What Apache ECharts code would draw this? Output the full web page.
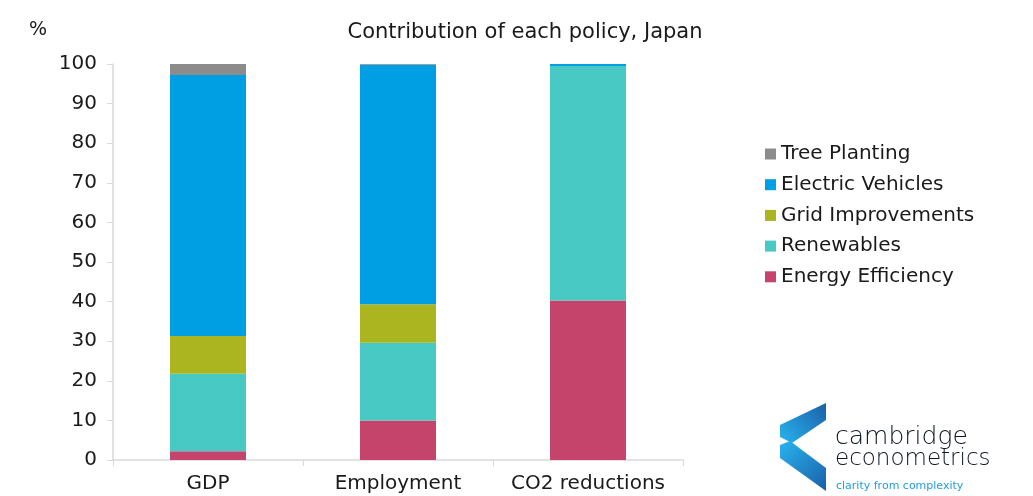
<!DOCTYPE html>
<html>
<head>
<meta charset="utf-8">
<script src="https://cdn.jsdelivr.net/npm/echarts@6/dist/echarts.min.js"></script>
<style>
  html, body { margin: 0; padding: 0; background: #fff; }
  #chart { width: 1033px; height: 496px; }
</style>
</head>
<body>
<div id="chart"></div>
<script>
// data
const categories = ['GDP', 'Employment', 'CO2 reductions'];
const energyEfficiency = [2.2, 10.0, 40.3];
const renewables = [19.6, 19.6, 59.2];
const gridImprovements = [9.5, 9.7, 0];
const electricVehicles = [65.9, 60.5, 0.5];
const treePlanting = [2.8, 0.2, 0];
const yTicks = [0, 10, 20, 30, 40, 50, 60, 70, 80, 90, 100];

const colors = {
  ee: '#c4446c',
  ren: '#48c9c3',
  grid: '#aab51f',
  ev: '#009fe3',
  tree: '#8c8c8c'
};

const font = '"DejaVu Sans", sans-serif';
const chart = echarts.init(document.getElementById('chart'), null, { renderer: 'canvas' });

const bar = (name, data, color) => ({
  name, type: 'bar', stack: 'total', data, barWidth: '40%',
  itemStyle: { color }, emphasis: { disabled: true }
});

chart.setOption({
  animation: false,
  title: {
    text: 'Contribution of each policy, Japan',
    left: 520, top: 17, textAlign: 'center',
    textStyle: { fontFamily: font, fontSize: 21, fontWeight: 'normal', color: '#1a1a1a' }
  },
  legend: {
    orient: 'vertical', left: 760, top: 139,
    itemWidth: 11, itemHeight: 11, itemGap: 10.7, icon: 'rect',
    textStyle: { fontFamily: font, fontSize: 20, color: '#1a1a1a' },
    data: ['Tree Planting', 'Electric Vehicles', 'Grid Improvements', 'Renewables', 'Energy Efficiency']
  },
  grid: { left: 113, right: 350, top: 64, bottom: 36 },
  xAxis: {
    type: 'category', data: categories,
    axisLine: { lineStyle: { color: '#d9d9d9', width: 1.5 } },
    axisTick: { show: true, interval: 0, length: 6, lineStyle: { color: '#d9d9d9' } },
    axisLabel: { interval: 0, fontFamily: font, fontSize: 20, color: '#1a1a1a', margin: 14 }
  },
  yAxis: {
    type: 'value', min: yTicks[0], max: yTicks[yTicks.length - 1], interval: 10,
    axisLine: { show: true, lineStyle: { color: '#d9d9d9', width: 1.5 } },
    axisTick: { show: true, length: 6, lineStyle: { color: '#d9d9d9' } },
    splitLine: { show: false },
    axisLabel: { fontFamily: font, fontSize: 20, color: '#1a1a1a', margin: 16 }
  },
  series: [
    bar('Energy Efficiency', energyEfficiency, colors.ee),
    bar('Renewables', renewables, colors.ren),
    bar('Grid Improvements', gridImprovements, colors.grid),
    bar('Electric Vehicles', electricVehicles, colors.ev),
    bar('Tree Planting', treePlanting, colors.tree)
  ],
  graphic: [
    { type: 'text', left: 29, top: 21, style: { text: '%', font: '19px ' + font, fill: '#1a1a1a' } },
    // logo
    {
      type: 'polygon',
      shape: { points: [[826, 403], [826, 420], [792, 443], [780, 437], [780, 425]] },
      style: { fill: new echarts.graphic.LinearGradient(1, 0, 0, 1, [{ offset: 0, color: '#1b5fa8' }, { offset: 1, color: '#28b4ee' }]) }
    },
    {
      type: 'polygon',
      shape: { points: [[780, 445], [790, 441], [826, 468], [826, 491], [780, 458]] },
      style: { fill: new echarts.graphic.LinearGradient(0, 0, 1, 1, [{ offset: 0, color: '#28b4ee' }, { offset: 1, color: '#1b5fa8' }]) }
    },
    { type: 'text', left: 835, top: 425, style: { text: 'cambridge', font: '200 25px ' + font, fill: '#0d1622' } },
    { type: 'text', left: 835, top: 448, style: { text: 'econometrics', font: '200 23px ' + font, fill: '#0d1622' } },
    { type: 'text', left: 836, top: 481, style: { text: 'clarity from complexity', font: '11px ' + font, fill: '#1f9ee0' } }
  ]
});
</script>
</body>
</html>
